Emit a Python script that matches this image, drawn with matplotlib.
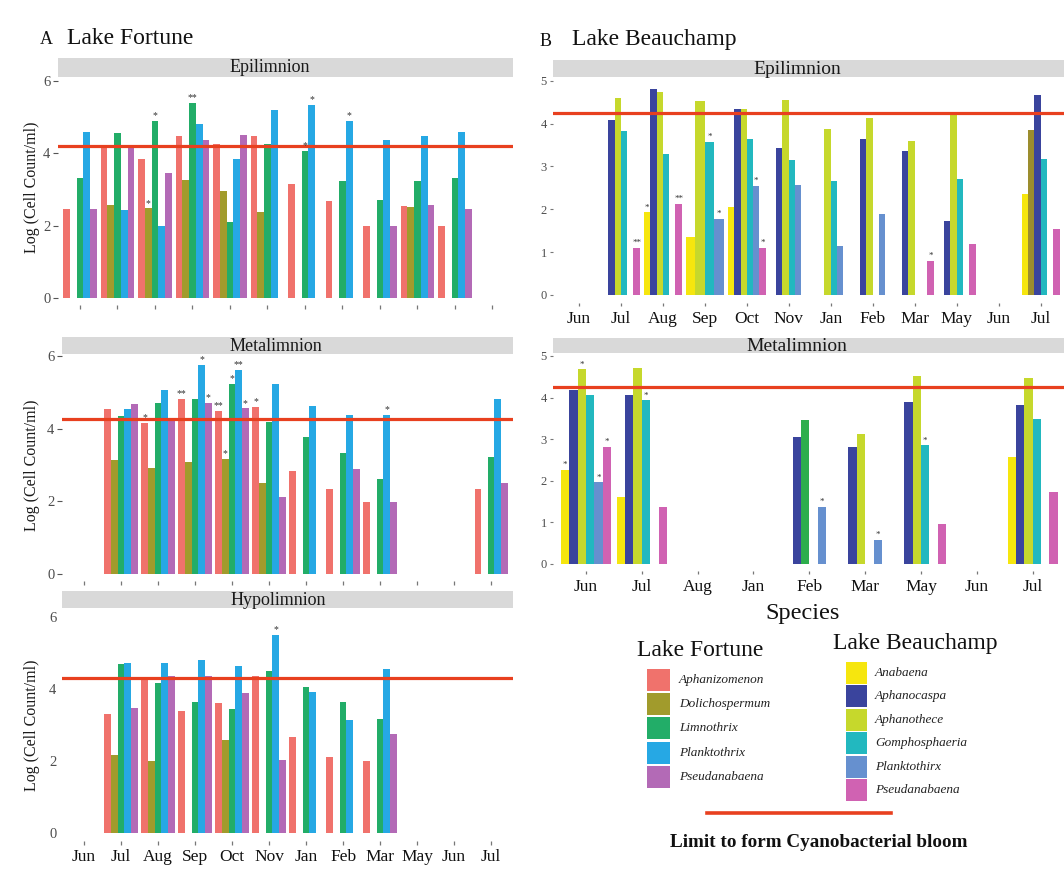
import numpy as np
import matplotlib
matplotlib.use("Agg")
import matplotlib.pyplot as plt
from matplotlib.patches import Rectangle
from matplotlib.lines import Line2D

nan = np.nan
plt.rcParams['font.family'] = ['Liberation Serif', 'DejaVu Serif']

# ---------------- data ----------------
months_fortune = ["Jun", "Jul", "Aug", "Sep", "Oct", "Nov", "Jan", "Feb", "Mar", "May", "Jun", "Jul"]
species_fortune = ["Aphanizomenon", "Dolichospermum", "Limnothrix", "Planktothrix", "Pseudanabaena"]
colors_fortune = ["#F0726C", "#A19B2C", "#22AD68", "#26A8E4", "#B36AB6"]

fortune_epi = {
    "Aphanizomenon":  [2.47, 4.16, 3.85, 4.48, 4.27, 4.49, 3.16, 2.68, 1.99, 2.55, 1.99, nan],
    "Dolichospermum": [nan, 2.58, 2.48, 3.27, 2.95, 2.38, nan, nan, nan, 2.52, nan, nan],
    "Limnothrix":     [3.31, 4.55, 4.89, 5.40, 2.09, 4.25, 4.07, 3.24, 2.71, 3.25, 3.31, nan],
    "Planktothrix":   [4.60, 2.43, 1.98, 4.82, 3.85, 5.20, 5.34, 4.89, 4.37, 4.48, 4.60, nan],
    "Pseudanabaena":  [2.46, 4.21, 3.45, 4.37, 4.51, nan, nan, nan, 1.99, 2.56, 2.46, nan],
}
fortune_meta = {
    "Aphanizomenon":  [nan, 4.53, 4.17, 4.82, 4.49, 4.60, 2.82, 2.33, 1.98, nan, nan, 2.33],
    "Dolichospermum": [nan, 3.13, 2.92, 3.07, 3.16, 2.49, nan, nan, nan, nan, nan, nan],
    "Limnothrix":     [nan, 4.34, 4.70, 4.83, 5.23, 4.19, 3.78, 3.34, 2.60, nan, nan, 3.21],
    "Planktothrix":   [nan, 4.55, 5.06, 5.77, 5.61, 5.22, 4.62, 4.37, 4.38, nan, nan, 4.81],
    "Pseudanabaena":  [nan, 4.67, 4.28, 4.72, 4.56, 2.12, nan, 2.89, 1.98, nan, nan, 2.49],
}
fortune_hypo = {
    "Aphanizomenon":  [nan, 3.32, 4.30, 3.40, 3.63, 4.36, 2.69, 2.11, 2.02, nan, nan, nan],
    "Dolichospermum": [nan, 2.19, 2.01, nan, 2.59, nan, nan, nan, nan, nan, nan, nan],
    "Limnothrix":     [nan, 4.70, 4.18, 3.65, 3.45, 4.51, 4.06, 3.66, 3.19, nan, nan, nan],
    "Planktothrix":   [nan, 4.72, 4.72, 4.82, 4.64, 5.51, 3.94, 3.16, 4.56, nan, nan, nan],
    "Pseudanabaena":  [nan, 3.49, 4.38, 4.36, 3.91, 2.03, nan, nan, 2.76, nan, nan, nan],
}
# significance marks: (month index, species, label)
stars_fortune_epi = [(2, "Dolichospermum", "*"), (2, "Limnothrix", "*"), (3, "Limnothrix", "**"),
                     (6, "Limnothrix", "*"), (6, "Planktothrix", "*"), (7, "Planktothrix", "*")]
stars_fortune_meta = [(2, "Aphanizomenon", "*"), (3, "Aphanizomenon", "**"), (3, "Planktothrix", "*"),
                      (3, "Pseudanabaena", "*"), (4, "Aphanizomenon", "**"), (4, "Dolichospermum", "*"),
                      (4, "Limnothrix", "*"), (4, "Planktothrix", "**"), (4, "Pseudanabaena", "*"),
                      (5, "Aphanizomenon", "*"), (8, "Planktothrix", "*")]
stars_fortune_hypo = [(5, "Planktothrix", "*")]

months_beau_epi = ["Jun", "Jul", "Aug", "Sep", "Oct", "Nov", "Jan", "Feb", "Mar", "May", "Jun", "Jul"]
months_beau_meta = ["Jun", "Jul", "Aug", "Jan", "Feb", "Mar", "May", "Jun", "Jul"]
species_beau = ["Anabaena", "Aphanocaspa", "Aphanothece", "Gomphosphaeria", "Planktothirx", "Pseudanabaena"]
colors_beau = ["#F6E60E", "#3A449D", "#C6D82C", "#22B8BF", "#6690CF", "#D062B2"]

beau_epi = {
    "Anabaena":       [nan, nan, 1.93, 1.36, 2.05, nan, nan, nan, nan, nan, nan, 2.36],
    "Aphanocaspa":    [nan, 4.08, 4.80, nan, 4.35, 3.44, nan, 3.65, 3.36, 1.73, nan, 3.85],
    "Aphanothece":    [nan, 4.59, 4.74, 4.53, 4.35, 4.56, 3.87, 4.14, 3.60, 4.28, nan, 4.67],
    "Gomphosphaeria": [nan, 3.83, 3.29, 3.58, 3.65, 3.15, 2.66, nan, nan, 2.70, nan, 3.17],
    "Planktothirx":   [nan, nan, nan, 1.77, 2.54, 2.57, 1.14, 1.90, nan, nan, nan, nan],
    "Pseudanabaena":  [nan, 1.09, 2.12, nan, 1.09, nan, nan, nan, 0.79, 1.20, nan, 1.53],
}
beau_meta = {
    "Anabaena":       [2.26, 1.62, nan, nan, nan, nan, nan, nan, 2.56],
    "Aphanocaspa":    [4.18, 4.06, nan, nan, 3.04, 2.80, 3.90, nan, 3.82],
    "Aphanothece":    [4.68, 4.72, nan, nan, 3.46, 3.12, 4.52, nan, 4.48],
    "Gomphosphaeria": [4.06, 3.93, nan, nan, nan, nan, 2.85, nan, 3.48],
    "Planktothirx":   [1.96, nan, nan, nan, 1.38, 0.58, nan, nan, nan],
    "Pseudanabaena":  [2.82, 1.38, nan, nan, nan, nan, 0.96, nan, 1.72],
}
stars_beau_epi = [(1, "Pseudanabaena", "**"), (2, "Anabaena", "*"), (2, "Pseudanabaena", "**"),
                  (3, "Gomphosphaeria", "*"), (3, "Planktothirx", "*"), (4, "Planktothirx", "*"),
                  (4, "Pseudanabaena", "*"), (8, "Pseudanabaena", "*")]
stars_beau_meta = [(0, "Anabaena", "*"), (0, "Aphanothece", "*"), (0, "Planktothirx", "*"),
                   (0, "Pseudanabaena", "*"), (1, "Gomphosphaeria", "*"), (4, "Planktothirx", "*"),
                   (5, "Planktothirx", "*"), (6, "Gomphosphaeria", "*")]
# groups where bars are dodged only among the species present
compact_beau_epi = [3]
# bars drawn in another colour in the original figure
overrides_beau_epi = {(11, "Aphanocaspa"): "#9C8D2E", (11, "Aphanothece"): "#3A449D"}
overrides_beau_meta = {(4, "Aphanothece"): "#2DAE4C"}

bloom_limit = {"fe": 4.21, "fm": 4.27, "fh": 4.33, "be": 4.26, "bm": 4.26}

# ---------------- figure ----------------
W, H = 1064, 871
fig = plt.figure(figsize=(W / 100, H / 100), dpi=100)
fig.patch.set_facecolor("white")


def px_axes(l, t, r, b):
    return fig.add_axes([l / W, 1 - b / H, (r - l) / W, (b - t) / H])


def strip(l, t, r, b, label, lx, fs=13):
    fig.patches.append(Rectangle((l / W, 1 - b / H), (r - l) / W, (b - t) / H,
                                 transform=fig.transFigure, facecolor="#D9D9D9",
                                 edgecolor="none", zorder=0))
    fig.text(lx / W, 1 - ((t + b) / 2 + 0.5) / H, label, ha="center", va="center",
             fontsize=fs, color="#1A1A1A")


def draw_panel(ax, months, species, colors, data, stars, limit, xlim, ylim, yticks,
               compact=(), overrides=None, width=0.9, star_fs=7):
    overrides = overrides or {}
    n = len(species)
    for g in range(len(months)):
        present = [k for k in range(n) if not np.isnan(data[species[k]][g])]
        slots = present if g in compact else list(range(n))
        m = len(slots)
        if m == 0:
            continue
        w = width / m
        for j, k in enumerate(slots):
            v = data[species[k]][g]
            if np.isnan(v):
                continue
            x = g - width / 2 + (j + 0.5) * w
            c = overrides.get((g, species[k]), colors[k])
            ax.bar(x, v, width=w, color=c, linewidth=0, zorder=2)
    for g, sp, lab in stars:
        k = species.index(sp)
        present = [kk for kk in range(n) if not np.isnan(data[species[kk]][g])]
        slots = present if g in compact else list(range(n))
        w = width / len(slots)
        j = slots.index(k)
        x = g - width / 2 + (j + 0.5) * w
        ax.text(x, data[sp][g] + 0.02, lab, ha="center", va="bottom",
                fontsize=star_fs, color="#333333", zorder=4)
    ax.axhline(limit, color="#E8401F", lw=2.3, zorder=3)
    ax.set_xlim(*xlim)
    ax.set_ylim(*ylim)
    ax.set_xticks(range(len(months)))
    ax.set_yticks(yticks)
    for s in ax.spines.values():
        s.set_visible(False)
    ax.set_facecolor("none")


gray = "#4D4D4D"

# Lake Fortune epilimnion
ax1 = px_axes(58, 77, 513, 305)
draw_panel(ax1, months_fortune, species_fortune, colors_fortune, fortune_epi, stars_fortune_epi,
           bloom_limit["fe"], (-0.587, 11.55), (-0.19, 6.11), [0, 2, 4, 6])
ax1.set_xticklabels([])
strip(58, 58, 513, 77, "Epilimnion", 270)

# Lake Fortune metalimnion
ax2 = px_axes(62, 354, 513, 581)
draw_panel(ax2, months_fortune, species_fortune, colors_fortune, fortune_meta, stars_fortune_meta,
           bloom_limit["fm"], (-0.595, 11.59), (-0.2, 6.06), [0, 2, 4, 6])
ax2.set_xticklabels([])
strip(62, 337, 513, 354, "Metalimnion", 276)

# Lake Fortune hypolimnion
ax3 = px_axes(62, 608, 513, 841)
draw_panel(ax3, months_fortune, species_fortune, colors_fortune, fortune_hypo, stars_fortune_hypo,
           bloom_limit["fh"], (-0.595, 11.59), (-0.21, 6.26), [0, 2, 4, 6])
ax3.set_xticklabels(months_fortune, fontsize=12.5, color="#111111")
strip(62, 591, 513, 608, "Hypolimnion", 278)

for ax in (ax1, ax2, ax3):
    ax.tick_params(axis="y", length=3.5, width=0.8, color="#555555", pad=2,
                   labelsize=10.5, labelcolor=gray)
    ax.tick_params(axis="x", length=3, width=0.9, color="#777777", pad=3)
    ax.set_ylabel("Log (Cell Count/ml)", fontsize=11.5, color="#1A1A1A")
ax3.tick_params(axis="y", length=0, pad=4)
for ax, yc in ((ax1, 187), (ax2, 465), (ax3, 725)):
    ax.yaxis.set_label_coords(40 / W, 1 - yc / H, transform=fig.transFigure)

# Lake Beauchamp epilimnion
ax4 = px_axes(553, 77, 1064, 303)
draw_panel(ax4, months_beau_epi, species_beau, colors_beau, beau_epi, stars_beau_epi,
           bloom_limit["be"], (-0.617, 11.556), (-0.19, 5.09), [0, 1, 2, 3, 4, 5],
           compact=compact_beau_epi, overrides=overrides_beau_epi, star_fs=6.5)
ax4.set_xticklabels(months_beau_epi, fontsize=12.5, color="#111111")
strip(553, 60, 1064, 77, "Epilimnion", 797, fs=14)

# Lake Beauchamp metalimnion
ax5 = px_axes(553, 353, 1064, 571)
draw_panel(ax5, months_beau_meta, species_beau, colors_beau, beau_meta, stars_beau_meta,
           bloom_limit["bm"], (-0.59, 8.56), (-0.17, 5.07), [0, 1, 2, 3, 4, 5],
           overrides=overrides_beau_meta, star_fs=6.5)
ax5.set_xticklabels(months_beau_meta, fontsize=12.5, color="#111111")
strip(553, 338, 1064, 353, "Metalimnion", 797, fs=14)
for ax in (ax4, ax5):
    ax.tick_params(axis="y", length=2.5, width=0.8, color="#777777", pad=2,
                   labelsize=9, labelcolor=gray)
    ax.tick_params(axis="x", length=2.5, width=0.9, color="#777777", pad=3)

fig.text(803 / W, 1 - 614 / H, "Species", ha="center", va="center", fontsize=17.5, color="#111111")

# panel titles
fig.text(40 / W, 1 - 39 / H, "A", ha="left", va="center", fontsize=13, color="#111111")
fig.text(67 / W, 1 - 38 / H, "Lake Fortune", ha="left", va="center", fontsize=17, color="#111111")
fig.text(540 / W, 1 - 41 / H, "B", ha="left", va="center", fontsize=13, color="#111111")
fig.text(572 / W, 1 - 39 / H, "Lake Beauchamp", ha="left", va="center", fontsize=17, color="#111111")

# ---------------- legends ----------------
fig.text(637 / W, 1 - 650 / H, "Lake Fortune", ha="left", va="center", fontsize=17, color="#111111")
rows_f = [680, 704, 728, 752.5, 776.5]
for sp, c, yc in zip(species_fortune, colors_fortune, rows_f):
    fig.patches.append(Rectangle((647 / W, 1 - (yc + 11) / H), 23 / W, 22 / H,
                                 transform=fig.transFigure, facecolor=c, edgecolor="none"))
    fig.text(679 / W, 1 - yc / H, sp, ha="left", va="center", fontsize=9.5,
             style="italic", color="#222222")

fig.text(833 / W, 1 - 643 / H, "Lake Beauchamp", ha="left", va="center", fontsize=17, color="#111111")
rows_b = [672.5, 696, 719.5, 743, 766.5, 790]
for sp, c, yc in zip(species_beau, colors_beau, rows_b):
    fig.patches.append(Rectangle((846 / W, 1 - (yc + 11) / H), 21 / W, 22 / H,
                                 transform=fig.transFigure, facecolor=c, edgecolor="none"))
    fig.text(875 / W, 1 - yc / H, sp, ha="left", va="center", fontsize=9.5,
             style="italic", color="#222222")

fig.lines.append(Line2D([707 / W, 891 / W], [1 - 812.5 / H, 1 - 812.5 / H],
                        transform=fig.transFigure, color="#E8401F", lw=2.6))
fig.text(819 / W, 1 - 842 / H, "Limit to form Cyanobacterial bloom", ha="center", va="center",
         fontsize=13.8, fontweight="bold", color="#111111")

fig.savefig("out.png", dpi=100, facecolor="white")
